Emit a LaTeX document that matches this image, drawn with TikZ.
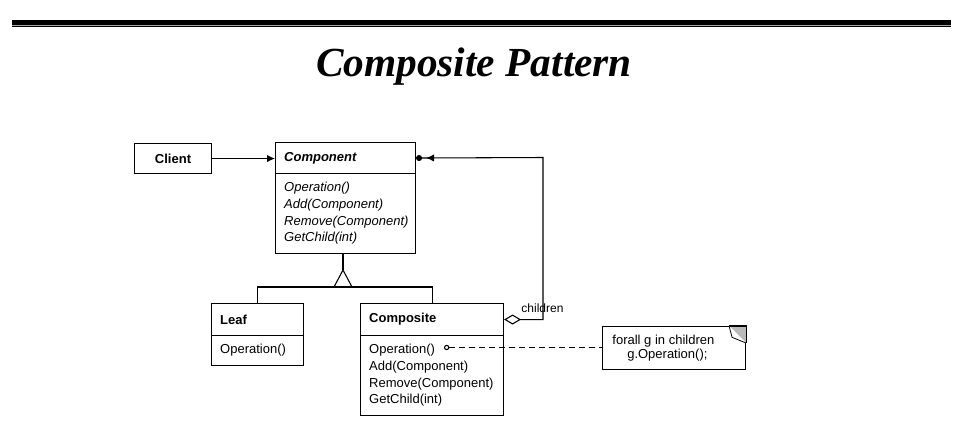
\documentclass[tikz,border=0pt]{standalone}
\usepackage{fontspec}
\setmainfont{Liberation Sans}
\newfontfamily\titlefont{Liberation Serif}
\usepackage{tikz}
\usetikzlibrary{arrows.meta}

\tikzset{
  umlbox/.style={draw, rectangle, inner xsep=6.5pt, inner ysep=0pt, anchor=north west, align=left, font=\fontsize{9.75}{12.5}\selectfont},
}

\begin{document}
\begin{tikzpicture}[x=0.75pt,y=0.75pt,yscale=-1,xscale=1,line width=0.8pt]
\useasboundingbox (0,0) rectangle (963,428);

%Rule at the top
\draw [line width=3.2pt] (12,22.5) -- (951,22.5) ;
\draw [line width=0.75pt, color=gray!70] (12,25.8) -- (951,25.8) ;
\draw [line width=0.75pt] (12,27) -- (951,27) ;

%Title
\node (title) [anchor=base, font=\titlefont\bfseries\itshape\fontsize{31}{36}\selectfont] at (474,77) {Composite Pattern};

%Client
\node (client) [umlbox, align=center, text width=44.75pt, minimum height=22.5pt] at (134,143) {\bfseries Client};

%Component
\node (compH) [umlbox, text width=92pt, minimum height=23.25pt] at (275,142) {\bfseries\itshape Component};
\node (compB) [umlbox, text width=92pt, minimum height=60pt] at (275,173) {\itshape Operation()\\Add(Component)\\Remove(Component)\\GetChild(int)};

%Leaf
\node (leafH) [umlbox, text width=56pt, minimum height=24pt] at (211,303) {\bfseries Leaf};
\node (leafB) [umlbox, text width=56pt, minimum height=22.5pt] at (211,335) {Operation()};

%Composite
\node (compoH) [umlbox, text width=94.25pt, minimum height=24pt] at (360,303) {\bfseries Composite};
\node (compoB) [umlbox, text width=94.25pt, minimum height=60pt] at (360,335) {Operation()\\Add(Component)\\Remove(Component)\\GetChild(int)};

%Note
\node (note) [draw, anchor=north west, align=center, minimum width=107.25pt, minimum height=32.25pt, inner sep=0pt, font=\fontsize{9.75}{9}\selectfont] at (602,326) {forall g in children\hspace*{16pt}\\g.Operation();\hspace*{10pt}};
\draw [fill=gray!55] ([xshift=-12.75pt]note.north east) -- (note.north east) -- ([yshift=12.75pt]note.north east) ;
\draw [fill=white, line width=0.6pt] ([xshift=-12.75pt]note.north east) -- ([xshift=-10.5pt,yshift=8.5pt]note.north east) -- ([yshift=12.75pt]note.north east) ;

%Client uses Component
\draw [-{Latex[length=6pt,width=5.5pt]}] (client.east) -- (client.east -| compH.west) ;

%Generalization
\coordinate (apex) at (343,270) ;
\draw (compB.south -| apex) -- (apex) ;
\draw (apex) -- ++(9,17) -- ++(-18,0) -- cycle ;
\draw (leafH.north) -- ++(0,-16) -| (compoH.north) ;

%Aggregation of children
\coordinate (bend) at (543,157.5) ;
\draw [{Diamond[open,length=12.75pt,width=7.5pt]}-{Latex[length=6pt,width=5.5pt,sep=3pt]Circle[length=4.5pt]}] (compoH.east) -| (bend) -- (compH.east) ;
\node (childlbl) [anchor=base, font=\fontsize{9}{10}\selectfont] at (542.5,312) {children};

%Note attached to Operation()
\coordinate (opdot) at (444,347.5) ;
\draw [dash pattern=on 4.5pt off 3pt, {Circle[open,length=4pt]}-] (opdot) -- (opdot -| note.west) ;

\end{tikzpicture}
\end{document}
